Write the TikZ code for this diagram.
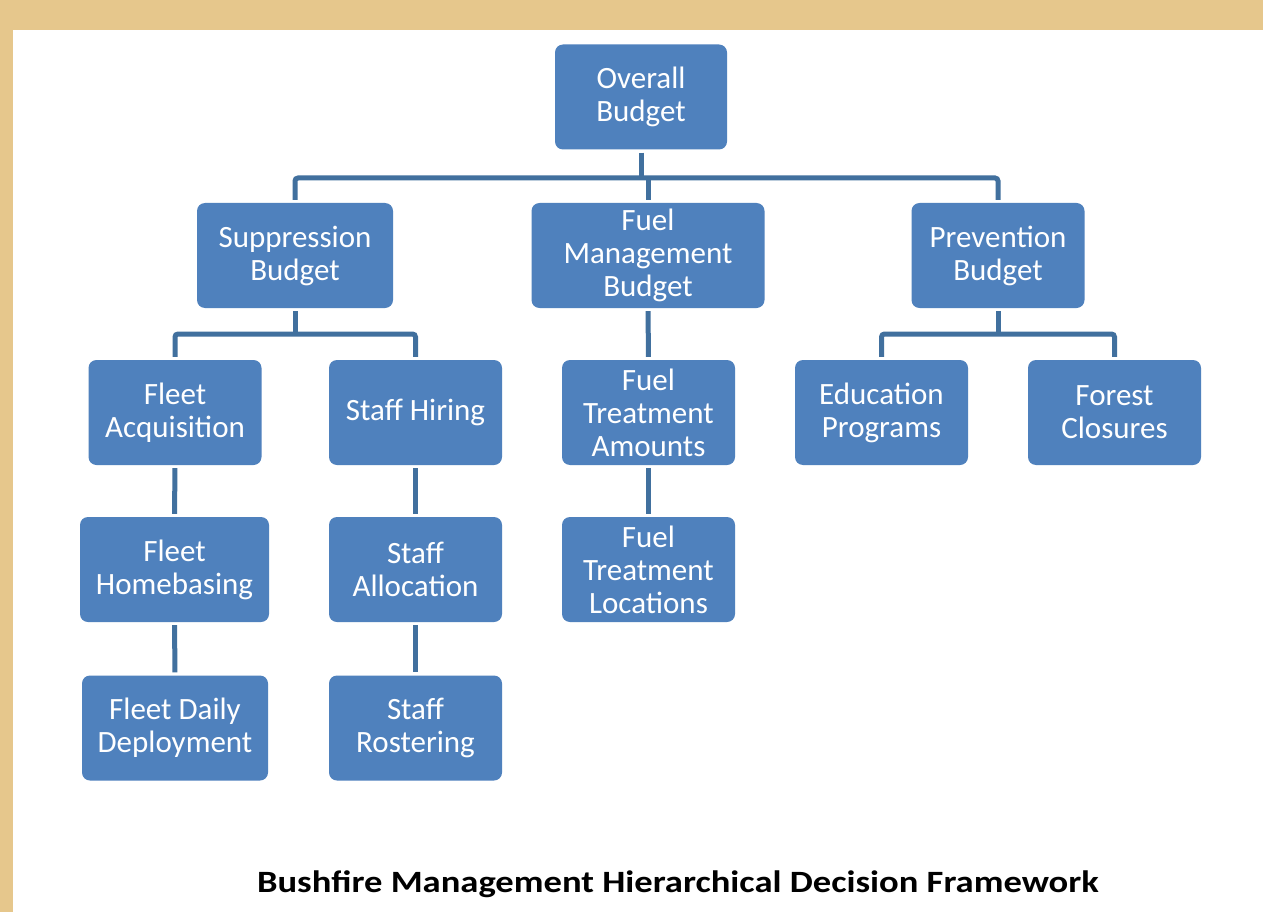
\documentclass[tikz,border=0pt]{standalone}
\usepackage{fontspec}
\setmainfont{Carlito}
\definecolor{boxblue}{HTML}{4F81BD}
\definecolor{lineblue}{HTML}{41709E}
\definecolor{parch}{HTML}{E6C78C}
\begin{document}
\begin{tikzpicture}[x=1pt,y=-1pt,
  box/.style={fill=boxblue, draw=none, rounded corners=8pt, text=white, align=center,
    minimum height=105pt, inner sep=0pt, font=\fontsize{31}{33}\selectfont},
  conn/.style={draw=lineblue, line width=5pt, rounded corners=3pt}]
\useasboundingbox (0,0) rectangle (1263,912);
\fill[parch] (0,0) rectangle (1263,912);
\fill[white] (13,30) rectangle (1263,912);

\node[box, minimum width=172pt] (ov) at (641,97) {Overall\\Budget};
\node[box, minimum width=196pt] (sup) at (295,255.5) {Suppression\\Budget};
\node[box, minimum width=233pt] (fm) at (648,255.5) {Fuel\\Management\\Budget};
\node[box, minimum width=173pt] (prev) at (998,255.5) {Prevention\\Budget};
\node[box, minimum width=173pt] (fa) at (175,412.5) {Fleet\\Acquisition};
\node[box, minimum width=173pt] (sh) at (415.5,412.5) {Staff Hiring};
\node[box, minimum width=173pt] (fta) at (648.5,412.5) {Fuel\\Treatment\\Amounts};
\node[box, minimum width=173pt] (ed) at (881.5,412.5) {Education\\Programs};
\node[box, minimum width=173pt] (fc) at (1114.5,412.5) {Forest\\Closures};
\node[box, minimum width=189pt] (fh) at (174.5,569.5) {Fleet\\Homebasing};
\node[box, minimum width=173pt] (sa) at (415.5,569.5) {Staff\\Allocation};
\node[box, minimum width=173pt] (ftl) at (648.5,569.5) {Fuel\\Treatment\\Locations};
\node[box, minimum width=186pt] (fd) at (175,728) {Fleet Daily\\Deployment};
\node[box, minimum width=173pt] (sr) at (415.5,728) {Staff\\Rostering};

\coordinate (j1) at (641,178);
\coordinate (j2) at (295,334);
\coordinate (j3) at (998,334);

% level 1
\draw[conn, shorten <=3pt] (ov.south) -- (ov.south |- j1);
\draw[conn, shorten <=3pt, shorten >=3pt] (sup.north) |- (j1) -| (prev.north);
\draw[conn, shorten >=3pt] (fm.north |- j1) -- (fm.north);
% suppression
\draw[conn, shorten <=3pt] (sup.south) -- (j2);
\draw[conn, shorten <=3pt, shorten >=3pt] (fa.north) |- (j2) -| (sh.north);
% prevention
\draw[conn, shorten <=3pt] (prev.south) -- (j3);
\draw[conn, shorten <=3pt, shorten >=3pt] (ed.north) |- (j3) -| (fc.north);
% fuel
\draw[conn, shorten <=3pt, shorten >=3pt] (fm.south) -- (fta.north);
\draw[conn, shorten <=3pt, shorten >=3pt] (fta.south) -- (ftl.north);
% chains
\draw[conn, shorten <=3pt, shorten >=3pt] (fa.south) -- (fh.north);
\draw[conn, shorten <=3pt, shorten >=3pt] (fh.south) -- (fd.north);
\draw[conn, shorten <=3pt, shorten >=3pt] (sh.south) -- (sa.north);
\draw[conn, shorten <=3pt, shorten >=3pt] (sa.south) -- (sr.north);

\node[font=\bfseries\fontsize{31}{34}\selectfont, inner sep=0pt] (title) at (678,884) {\scalebox{1.18}[1]{Bushfire Management Hierarchical Decision Framework}};
\end{tikzpicture}
\end{document}
